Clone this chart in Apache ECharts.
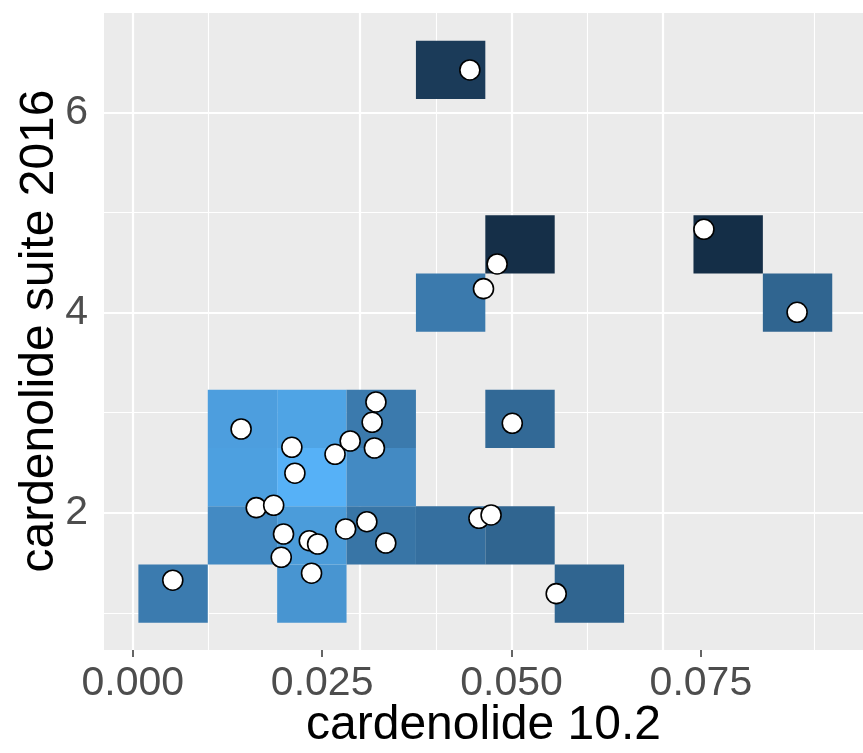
<!DOCTYPE html>
<html>
<head>
<meta charset="utf-8">
<script src="https://cdn.jsdelivr.net/npm/echarts@6/dist/echarts.min.js"></script>
<style>
    html, body { margin: 0; padding: 0; background: #fff; }
    #chart { width: 863px; height: 753px; }
</style>
</head>
<body>
<div id="chart"></div>
<script>
// 分箱边界
var xBreaks = [0.00074, 0.0099, 0.01906, 0.02822, 0.03738, 0.04654, 0.0557, 0.06486, 0.07402, 0.08318, 0.09234];
var yBreaks = [0.901, 1.482, 2.064, 2.645, 3.227, 3.808, 4.390, 4.971, 5.552, 6.134, 6.715];
// 方块: [x箱号, y箱号, 填充值]
var tiles = [
    [0, 0, 0.60], [2, 0, 0.79], [6, 0, 0.43],
    [1, 1, 0.71], [2, 1, 0.84], [3, 1, 0.55], [4, 1, 0.51], [5, 1, 0.43],
    [1, 2, 0.87], [2, 2, 1.00], [3, 2, 0.71],
    [1, 3, 0.86], [2, 3, 0.90], [3, 3, 0.59], [5, 3, 0.46],
    [4, 5, 0.59], [9, 5, 0.43],
    [5, 6, 0.03], [8, 6, 0.02],
    [4, 9, 0.12]
];
// 散点
var pointX = [0.00528, 0.0143, 0.0210, 0.0214, 0.0267, 0.0287, 0.0321, 0.0316, 0.0319, 0.0163,
              0.0186, 0.0199, 0.0196, 0.0233, 0.0244, 0.0236, 0.0281, 0.0309, 0.0334, 0.0481,
              0.0463, 0.0445, 0.0457, 0.0473, 0.0559, 0.0754, 0.0877, 0.0501];
var pointY = [1.325, 2.836, 2.653, 2.394, 2.583, 2.716, 3.106, 2.903, 2.646, 2.050,
              2.074, 1.787, 1.554, 1.720, 1.687, 1.395, 1.837, 1.910, 1.697, 4.485,
              4.238, 6.423, 1.944, 1.977, 1.191, 4.831, 4.002, 2.893];
// 刻度
var xTicks = [0, 0.025, 0.05, 0.075];
var xMinor = [0.0125, 0.0375, 0.0625, 0.0875];
var yTicks = [2, 4, 6];
var yMinor = [1, 3, 5, 7];

(function () {
    var myChart = echarts.init(document.getElementById('chart'));
    var font = 'Liberation Sans, Arial, sans-serif';

    var tileData = tiles.map(function (t) {
        return [xBreaks[t[0]], xBreaks[t[0] + 1], yBreaks[t[1]], yBreaks[t[1] + 1], t[2]];
    });
    var pointData = pointX.map(function (x, i) { return [x, pointY[i]]; });

    // 网格线
    function lines(vals, key, w) {
        return vals.map(function (v) {
            var o = { lineStyle: { width: w } };
            o[key] = v;
            return o;
        });
    }
    var gridData = [].concat(
        lines(xMinor, 'xAxis', 1.1), lines(yMinor, 'yAxis', 1.1),
        lines(xTicks, 'xAxis', 2.2), lines(yTicks, 'yAxis', 2.2)
    );

    var option = {
        animation: false,
        grid: {
            left: 104, right: 0, top: 12, bottom: 103,
            outerBoundsMode: 'none', containLabel: false,
            show: true, backgroundColor: '#EBEBEB', borderWidth: 0
        },
        visualMap: {
            show: false, type: 'continuous', min: 0, max: 1,
            dimension: 4, seriesIndex: 1,
            inRange: { color: ['#132B43', '#56B1F7'] }
        },
        xAxis: {
            type: 'value', min: -0.0038, max: 0.0964,
            name: 'cardenolide 10.2', nameLocation: 'middle', nameGap: 52, nameMoveOverlap: false,
            nameTextStyle: { fontSize: 48, color: '#000', fontFamily: font },
            axisLine: { show: false },
            axisTick: { show: true, length: 7, customValues: xTicks, lineStyle: { color: '#333', width: 1.5 } },
            axisLabel: {
                customValues: xTicks, margin: 13, fontSize: 41, color: '#4D4D4D', fontFamily: font,
                formatter: function (v) { return v.toFixed(3); }
            },
            splitLine: { show: false }
        },
        yAxis: {
            type: 'value', min: 0.628, max: 7.002,
            name: 'cardenolide suite 2016', nameLocation: 'middle', nameGap: 40, nameMoveOverlap: false,
            nameTextStyle: { fontSize: 48, color: '#000', fontFamily: font },
            axisLine: { show: false },
            axisTick: { show: true, length: 7, customValues: yTicks, lineStyle: { color: '#333', width: 1.5 } },
            axisLabel: {
                customValues: yTicks, margin: 16, fontSize: 41, color: '#4D4D4D', fontFamily: font,
                formatter: function (v) { return String(v); }
            },
            splitLine: { show: false }
        },
        series: [
            {
                type: 'line', data: [], z: 1, silent: true,
                markLine: {
                    z: 1, silent: true, symbol: ['none', 'none'], label: { show: false },
                    lineStyle: { color: '#FFFFFF', type: 'solid', opacity: 1 },
                    emphasis: { disabled: true },
                    data: gridData
                }
            },
            {
                type: 'custom', z: 2, silent: true,
                encode: { x: [0, 1], y: [2, 3] },
                data: tileData,
                renderItem: function (params, api) {
                    var p0 = api.coord([api.value(0), api.value(3)]);
                    var p1 = api.coord([api.value(1), api.value(2)]);
                    return {
                        type: 'rect',
                        shape: { x: p0[0], y: p0[1], width: p1[0] - p0[0], height: p1[1] - p0[1] },
                        style: { fill: api.visual('color') }
                    };
                }
            },
            {
                type: 'scatter', z: 3, silent: true,
                symbolSize: 20,
                itemStyle: { color: '#FFFFFF', borderColor: '#000', borderWidth: 1.6, opacity: 1 },
                data: pointData
            }
        ]
    };
    myChart.setOption(option);
})();
</script>
</body>
</html>
